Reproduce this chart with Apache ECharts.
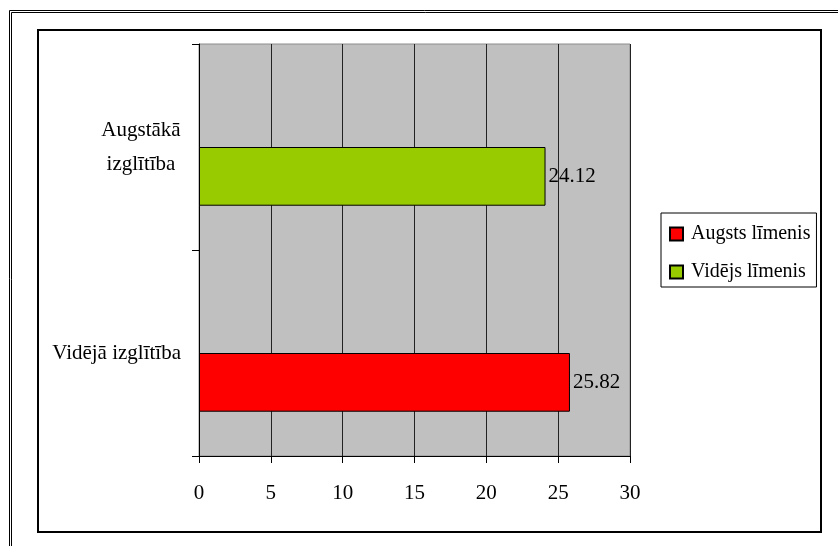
<!DOCTYPE html>
<html>
<head>
<meta charset="utf-8">
<script src="https://cdn.jsdelivr.net/npm/echarts@6/dist/echarts.min.js"></script>
<style>
  html, body { margin: 0; padding: 0; background: #fff; }
  #chart { width: 838px; height: 546px; }
</style>
</head>
<body>
<div id="chart"></div>
<script>
// Category labels, listed bottom to top as the y axis draws them
const categories = ['Vidējā izglītība', 'Augstākā\nizglītība'];
// Series names and values per category ('-' = no bar)
const seriesNames = ['Augsts līmenis', 'Vidējs līmenis'];
const augstsValues = [25.82, '-'];
const videjsValues = ['-', 24.12];
// Value axis ticks
const xTicks = [0, 5, 10, 15, 20, 25, 30];

const FONT = 'Liberation Serif';
const FS = 21;

const chart = echarts.init(document.getElementById('chart'), null, { renderer: 'canvas' });

const barLabel = {
  show: true,
  position: 'right',
  distance: 3,
  color: '#000',
  fontFamily: FONT,
  fontSize: FS
};

chart.setOption({
  animation: false,
  backgroundColor: '#fff',
  textStyle: { fontFamily: FONT },
  graphic: [
    { type: 'rect', silent: true, shape: { x: 9.5, y: 10.5, width: 1000, height: 1000 },
      style: { fill: 'none', stroke: '#000', lineWidth: 1 } },
    { type: 'rect', silent: true, shape: { x: 11.5, y: 12.5, width: 1000, height: 1000 },
      style: { fill: 'none', stroke: '#000', lineWidth: 1 } },
    { type: 'rect', silent: true, shape: { x: 38, y: 30, width: 783, height: 502 },
      style: { fill: 'none', stroke: '#000', lineWidth: 2 } }
  ],
  grid: {
    left: 199, right: 208, top: 44, bottom: 90,
    show: true,
    backgroundColor: '#c0c0c0',
    borderColor: '#8c8c8c',
    borderWidth: 1
  },
  legend: {
    orient: 'vertical',
    left: 661, top: 213,
    data: seriesNames,
    icon: 'rect',
    itemWidth: 13, itemHeight: 13,
    itemGap: 18,
    padding: [11, 6, 5, 8],
    borderColor: '#000',
    borderWidth: 1,
    backgroundColor: '#fff',
    textStyle: { fontFamily: FONT, fontSize: 20, color: '#000', padding: [0, 0, 0, 3] }
  },
  xAxis: {
    type: 'value',
    min: xTicks[0], max: xTicks[xTicks.length - 1], interval: xTicks[1] - xTicks[0],
    axisLine: { show: true, lineStyle: { color: '#000', width: 1 } },
    axisTick: { show: true, length: 7, lineStyle: { color: '#000' } },
    axisLabel: { color: '#000', fontFamily: FONT, fontSize: FS, margin: 27 },
    splitLine: { show: true, lineStyle: { color: '#222', width: 1 } }
  },
  yAxis: {
    type: 'category',
    data: categories,
    axisLine: { show: true, lineStyle: { color: '#000', width: 1 } },
    axisTick: { show: true, length: 7, alignWithLabel: false, lineStyle: { color: '#000' } },
    axisLabel: {
      margin: 18,
      color: '#000',
      formatter: function (v) {
        const lines = v.split('\n');
        if (lines.length === 1) return '{s|' + v + '}';
        return lines.map(function (s) { return '{c|' + s + '}'; }).join('\n');
      },
      rich: {
        s: { fontFamily: FONT, fontSize: FS, color: '#000', lineHeight: 34 },
        c: { fontFamily: FONT, fontSize: FS, color: '#000', lineHeight: 34, width: 80, align: 'center' }
      }
    },
    splitLine: { show: false }
  },
  series: [
    {
      // empty upper slot of each cluster
      name: 'slot', type: 'bar', data: ['-', '-'],
      barGap: '0%', barCategoryGap: '43%', silent: true
    },
    {
      name: seriesNames[0], type: 'bar', stack: 'main', data: augstsValues,
      barGap: '0%', barCategoryGap: '43%',
      itemStyle: { color: '#ff0000', borderColor: '#000', borderWidth: 1 },
      label: barLabel
    },
    {
      name: seriesNames[1], type: 'bar', stack: 'main', data: videjsValues,
      barGap: '0%', barCategoryGap: '43%',
      itemStyle: { color: '#99cc00', borderColor: '#000', borderWidth: 1 },
      label: barLabel
    }
  ]
});
</script>
</body>
</html>
